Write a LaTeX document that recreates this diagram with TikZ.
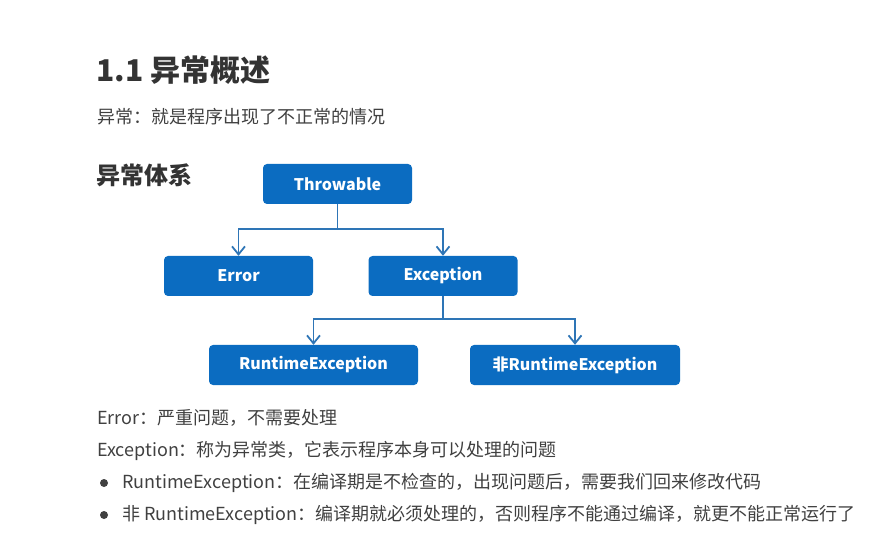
\documentclass[tikz,border=0pt]{standalone}
\usepackage{fontspec}
\setmainfont{Noto Sans CJK SC}
\usetikzlibrary{arrows.meta}

\definecolor{boxblue}{RGB}{11,108,193}
\definecolor{lineblue}{RGB}{46,117,182}
\definecolor{textgrey}{RGB}{64,64,64}

\tikzset{
  classbox/.style={rounded corners=4pt, fill=boxblue, text=white,
    font=\fontsize{16}{19}\selectfont\bfseries,
    minimum width=149pt, minimum height=40pt, inner sep=0pt},
  inherit/.style={draw=lineblue, line width=1.8pt,
    -{Straight Barb[length=8pt,width=13pt,line width=1.8pt]}},
  bodytext/.style={anchor=west, inner sep=0pt, text=textgrey,
    font=\fontsize{18}{21}\selectfont},
}

\begin{document}
\begin{tikzpicture}[x=1pt,y=-1pt]
        \useasboundingbox (0,0) rectangle (875,534);

        % Headings
        \node[anchor=west, inner sep=0pt, text=textgrey!80!black,
          font=\fontsize{30}{34}\selectfont\bfseries] (title) at (96,70) {1.1 异常概述};
        \node[bodytext] (intro) at (97,117) {异常：就是程序出现了不正常的情况};
        \node[anchor=west, inner sep=0pt, text=textgrey!80!black,
          font=\fontsize{24}{28}\selectfont\bfseries] (system) at (96,175) {异常体系};

        % Class hierarchy
        \node[classbox] (throwable) at (337.5,184) {Throwable};
        \node[classbox] (error) at (238.5,276) {Error};
        \node[classbox] (exception) at (443,276) {Exception};
        \node[classbox, minimum width=209pt] (runtime) at (313.5,365) {RuntimeException};
        \node[classbox, minimum width=210pt] (nonruntime) at (575,365) {非RuntimeException};

        % Connectors
        \draw[inherit] (throwable.south) -- ++(0,25) -| (error.north);
        \draw[inherit] (throwable.south) -- ++(0,25) -| (exception.north);
        \draw[inherit] (exception.south) -- ++(0,23) -| (runtime.north);
        \draw[inherit] (exception.south) -- ++(0,23) -| (nonruntime.north);

        % Notes
        \node[bodytext] (errnote) at (97,418) {Error：严重问题，不需要处理};
        \node[bodytext] (excnote) at (97,451) {Exception：称为异常类，它表示程序本身可以处理的问题};
        \fill[textgrey] (104,483) circle (4pt);
        \node[bodytext] (rtnote) at (122,483) {RuntimeException：在编译期是不检查的，出现问题后，需要我们回来修改代码};
        \fill[textgrey] (104,515) circle (4pt);
        \node[bodytext] (nrtnote) at (122,515) {非 RuntimeException：编译期就必须处理的，否则程序不能通过编译，就更不能正常运行了};
\end{tikzpicture}
\end{document}
